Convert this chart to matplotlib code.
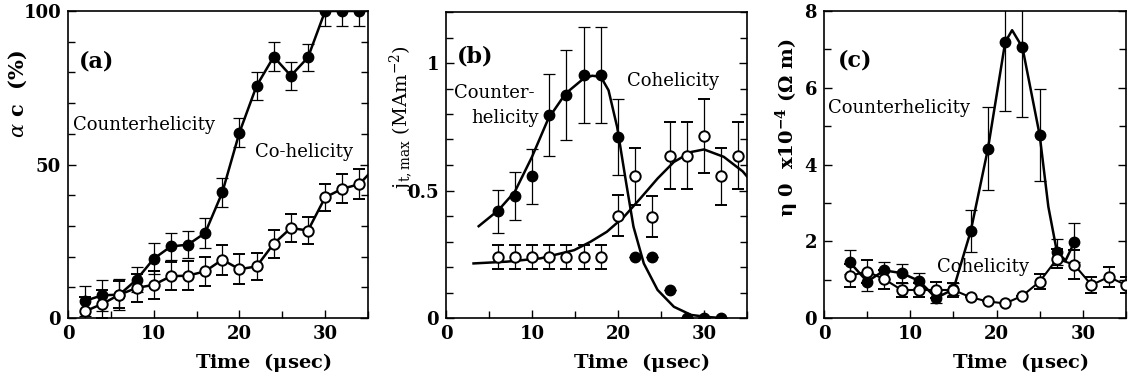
import matplotlib
matplotlib.use("Agg")
import matplotlib.pyplot as plt
from matplotlib.ticker import MultipleLocator, FuncFormatter

plt.rcParams['font.family'] = ['DejaVu Serif']
plt.rcParams['mathtext.fontset'] = 'dejavuserif'

# ---------------- Panel (a) ----------------
a_time = [2, 4, 6, 8, 10, 12, 14, 16, 18, 20, 22, 24, 26, 28, 30, 32, 34]
a_counter = [5.6, 7.4, 7.6, 12.5, 19.3, 23.3, 23.9, 27.7, 40.9, 60.4, 75.6, 85.1, 78.9, 84.9, 100, 100, 100]
a_counter_err = [4.9, 5.0, 5.0, 4.0, 5.0, 4.5, 4.5, 4.8, 4.8, 4.8, 4.5, 4.8, 4.5, 4.5, 5.0, 5.0, 5.0]
a_co_time = [2, 4, 6, 8, 10, 12, 14, 16, 18, 20, 22, 24, 26, 28, 30, 32, 34]
a_co = [2.2, 4.6, 7.6, 9.8, 10.8, 13.6, 13.8, 15.2, 19.0, 15.9, 16.8, 24.2, 29.3, 28.5, 39.3, 42.1, 43.6]
a_co_err = [4.5, 4.5, 4.5, 4.5, 4.5, 4.5, 4.8, 4.8, 4.9, 4.8, 4.5, 4.5, 4.5, 4.5, 4.5, 4.8, 4.8]
# the co-helicity line runs on past the last point to the frame
a_co_tail_t = [34, 35]
a_co_tail = [43.6, 46.6]

# ---------------- Panel (b) ----------------
b_time_counter = [6, 8, 10, 12, 14, 16, 18, 20, 22, 24, 26, 28, 30, 32]
b_counter = [0.418, 0.479, 0.555, 0.796, 0.875, 0.953, 0.953, 0.711, 0.239, 0.239, 0.111, 0.0, 0.0, 0.0]
b_counter_err = [0.083, 0.095, 0.108, 0.16, 0.175, 0.19, 0.19, 0.149, 0, 0, 0, 0, 0, 0]
b_time_co = [6, 8, 10, 12, 14, 16, 18, 20, 22, 24, 26, 28, 30, 32, 34]
b_co = [0.239, 0.239, 0.239, 0.239, 0.239, 0.239, 0.239, 0.401, 0.555, 0.398, 0.637, 0.637, 0.714, 0.555, 0.637]
b_co_err = [0.046, 0.046, 0.046, 0.046, 0.046, 0.046, 0.046, 0.08, 0.11, 0.08, 0.13, 0.13, 0.145, 0.11, 0.13]
# fitted curves
b_fit_counter_t = [3.8, 6.1, 8.0, 10.0, 11.9, 13.9, 16.0, 17.0, 18.0, 18.9, 19.9, 20.9, 21.8, 23.0, 24.6, 26.5, 28.5, 30.4, 32.0]
b_fit_counter = [0.36, 0.423, 0.495, 0.632, 0.782, 0.88, 0.939, 0.95, 0.946, 0.893, 0.749, 0.54, 0.358, 0.214, 0.11, 0.044, 0.012, 0.004, 0.0]
b_fit_co_t = [3.2, 7.1, 11.0, 14.9, 16.8, 18.7, 20.7, 22.6, 24.6, 26.5, 28.5, 30.0, 32.3, 34.5, 35.0]
b_fit_co = [0.214, 0.221, 0.234, 0.266, 0.299, 0.338, 0.397, 0.469, 0.547, 0.612, 0.651, 0.661, 0.632, 0.575, 0.555]

# ---------------- Panel (c) ----------------
c_time_counter = [3, 5, 7, 9, 11, 13, 15, 17, 19, 21, 23, 25, 27, 29]
c_counter = [1.45, 0.95, 1.24, 1.17, 0.97, 0.52, 0.75, 2.26, 4.41, 7.19, 7.05, 4.76, 1.72, 1.97]
c_counter_err = [0.31, 0.25, 0.22, 0.25, 0.2, 0.12, 0.15, 0.55, 1.08, 1.8, 1.8, 1.2, 0.35, 0.5]
c_line_counter_t = [3, 5, 7, 9, 11, 13, 15, 17, 19, 21, 21.8, 23, 25, 26, 27, 28, 29]
c_line_counter = [1.45, 0.95, 1.24, 1.17, 0.97, 0.52, 0.75, 2.26, 4.41, 7.19, 7.5, 7.05, 4.76, 2.9, 1.72, 1.5, 1.97]
c_time_co = [3, 5, 7, 9, 11, 13, 15, 17, 19, 21, 23, 25, 27, 29, 31, 33, 35]
c_co = [1.1, 1.21, 1.01, 0.73, 0.73, 0.73, 0.73, 0.54, 0.43, 0.38, 0.58, 0.95, 1.54, 1.39, 0.86, 1.07, 0.86]
c_co_err = [0.3, 0.3, 0.25, 0.18, 0.18, 0.2, 0.18, 0, 0, 0, 0, 0.2, 0.25, 0.38, 0.2, 0.25, 0.2]

W, H = 1128, 381
fig = plt.figure(figsize=(W / 100, H / 100), dpi=100)


def px_axes(l, r, t, b):
    return fig.add_axes([l / W, 1 - b / H, (r - l) / W, (b - t) / H])


ax_a = px_axes(68, 368, 11, 318)
ax_b = px_axes(446, 747, 12, 318)
ax_c = px_axes(824, 1126, 11, 318)

mk = 7.5
lw_line = 1.8
err_kw = dict(elinewidth=0.9, capsize=4.5, capthick=0.9, ecolor='black')


def style(ax, xmaj, xmin, ymaj, ymin):
    ax.set_xlim(0, 35)
    ax.xaxis.set_major_locator(MultipleLocator(xmaj))
    ax.xaxis.set_minor_locator(MultipleLocator(xmin))
    ax.yaxis.set_major_locator(MultipleLocator(ymaj))
    ax.yaxis.set_minor_locator(MultipleLocator(ymin))
    ax.tick_params(which='both', direction='in', top=False, right=True,
                   width=1.0, labelsize=13, pad=5)
    ax.tick_params(which='major', length=6)
    ax.tick_params(which='minor', length=5)
    for s in ax.spines.values():
        s.set_linewidth(1.2)
    ax.text(0.65, -0.145, r'Time  ($\mathbf{\mu}$sec)', transform=ax.transAxes,
            ha='center', va='center', fontsize=14, fontweight='bold')


def bold_ticks(ax):
    for lab in ax.get_xticklabels() + ax.get_yticklabels():
        lab.set_fontweight('bold')


# ----- (a)
ax = ax_a
ax.set_ylim(0, 100)
ax.plot(a_co_tail_t, a_co_tail, color='black', lw=lw_line, zorder=2)
ax.errorbar(a_time, a_counter, yerr=a_counter_err, fmt='o-', color='black',
            ms=mk, lw=lw_line, mfc='black', mec='black', zorder=3, **err_kw)
ax.errorbar(a_co_time, a_co, yerr=a_co_err, fmt='o-', color='black',
            ms=mk, lw=lw_line, mfc='white', mec='black', mew=1.4, zorder=4, **err_kw)
style(ax, 10, 5, 50, 10)
bold_ticks(ax)
ax.text(0.035, 0.835, '(a)', transform=ax.transAxes, fontsize=16, fontweight='bold',
        va='center', ha='left')
ax.text(0.017, 0.628, 'Counterhelicity', transform=ax.transAxes, fontsize=13,
        va='center', ha='left')
ax.text(0.623, 0.54, 'Co-helicity', transform=ax.transAxes, fontsize=13,
        va='center', ha='left')
ax.text(-0.167, 0.73, r'$\alpha$ c  (%)', transform=ax.transAxes, rotation=90,
        fontsize=15, fontweight='bold', va='center', ha='center')

# ----- (b)
ax = ax_b
ax.set_ylim(0, 1.2)
ax.plot(b_fit_counter_t, b_fit_counter, color='black', lw=lw_line, zorder=2)
ax.plot(b_fit_co_t, b_fit_co, color='black', lw=lw_line, zorder=2)
ax.errorbar(b_time_counter, b_counter, yerr=b_counter_err, fmt='o', color='black',
            ms=mk, mfc='black', mec='black', zorder=3, **err_kw)
ax.errorbar(b_time_co, b_co, yerr=b_co_err, fmt='o', color='black',
            ms=mk, mfc='white', mec='black', mew=1.4, zorder=4, **err_kw)
style(ax, 10, 5, 0.5, 0.1)
ax.yaxis.set_major_formatter(FuncFormatter(lambda v, p: f'{v:g}'))
bold_ticks(ax)
ax.text(0.035, 0.855, '(b)', transform=ax.transAxes, fontsize=16, fontweight='bold',
        va='center', ha='left')
ax.text(0.025, 0.735, 'Counter-', transform=ax.transAxes, fontsize=13,
        va='center', ha='left')
ax.text(0.085, 0.655, 'helicity', transform=ax.transAxes, fontsize=13,
        va='center', ha='left')
ax.text(0.60, 0.775, 'Cohelicity', transform=ax.transAxes, fontsize=13,
        va='center', ha='left')
ax.text(-0.15, 0.655, r'$\mathregular{j_{t,max}}$ (MAm$^{\mathregular{-2}}$)',
        transform=ax.transAxes, rotation=90, fontsize=14, va='center', ha='center')

# ----- (c)
ax = ax_c
ax.set_ylim(0, 8)
ax.plot(c_line_counter_t, c_line_counter, color='black', lw=lw_line, zorder=2)
ax.errorbar(c_time_counter, c_counter, yerr=c_counter_err, fmt='o', color='black',
            ms=mk, mfc='black', mec='black', zorder=3, **err_kw)
ax.errorbar(c_time_co, c_co, yerr=c_co_err, fmt='o-', color='black', lw=1.5,
            ms=mk, mfc='white', mec='black', mew=1.4, zorder=4, **err_kw)
style(ax, 10, 5, 2, 1)
bold_ticks(ax)
ax.text(0.045, 0.84, '(c)', transform=ax.transAxes, fontsize=16, fontweight='bold',
        va='center', ha='left')
ax.text(0.013, 0.685, 'Counterhelicity', transform=ax.transAxes, fontsize=13,
        va='center', ha='left')
ax.text(0.375, 0.165, 'Cohelicity', transform=ax.transAxes, fontsize=13,
        va='center', ha='left', zorder=5)
ax.text(-0.12, 0.62, r'$\mathregular{\eta}$ 0  x10$^{\mathregular{-4}}$ ($\mathregular{\Omega}$ m)',
        transform=ax.transAxes, rotation=90, fontsize=14, fontweight='bold',
        va='center', ha='center')

fig.savefig('out.png', dpi=100)
